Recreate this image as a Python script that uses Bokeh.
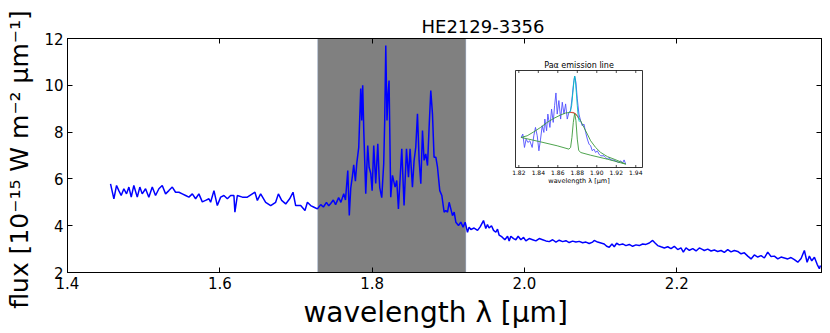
from bokeh.plotting import figure
from bokeh.models import (Range1d, LinearAxis, FixedTicker, PrintfTickFormatter,
                          BoxAnnotation, CustomJSTickFormatter)
from bokeh.embed import file_html
from bokeh.resources import INLINE
from bokeh.core.properties import value

# ---------------- main spectrum ----------------
WAVE = [1.4565, 1.4609, 1.4644, 1.4674, 1.4705, 1.4740, 1.4775, 1.4806, 1.4837, 1.4871,
        1.4916, 1.4950, 1.4981, 1.5025, 1.5068, 1.5113, 1.5156, 1.5200, 1.5244, 1.5288,
        1.5331, 1.5376, 1.5419, 1.5463, 1.5507, 1.5551, 1.5594, 1.5639, 1.5682, 1.5725,
        1.5770, 1.5813, 1.5857, 1.5879, 1.5923, 1.5967, 1.6011, 1.6054, 1.6099, 1.6142,
        1.6185, 1.6198, 1.6230, 1.6296, 1.6361, 1.6427, 1.6461, 1.6493, 1.6536, 1.6602,
        1.6668, 1.6733, 1.6769, 1.6812, 1.6865, 1.6917, 1.6961, 1.6996, 1.7062, 1.7118,
        1.7150, 1.7193, 1.7237, 1.7281, 1.7325, 1.7360, 1.7400, 1.7430, 1.7456, 1.7490,
        1.7520, 1.7560, 1.7590, 1.7627, 1.7650, 1.7680, 1.7700, 1.7719, 1.7740, 1.7758,
        1.7780, 1.7798, 1.7824, 1.7850, 1.7863, 1.7876, 1.7890, 1.7916, 1.7942, 1.7960,
        1.7982, 1.8000, 1.8021, 1.8047, 1.8074, 1.8090, 1.8100, 1.8126, 1.8152, 1.8165,
        1.8179, 1.8195, 1.8209, 1.8222, 1.8244, 1.8267, 1.8301, 1.8323, 1.8345, 1.8389,
        1.8419, 1.8451, 1.8477, 1.8498, 1.8529, 1.8551, 1.8573, 1.8595, 1.8617, 1.8639,
        1.8661, 1.8682, 1.8704, 1.8727, 1.8748, 1.8770, 1.8792, 1.8813, 1.8836, 1.8858,
        1.8888, 1.8915, 1.8945, 1.8967, 1.8990, 1.9011, 1.9033, 1.9055, 1.9077, 1.9099,
        1.9134, 1.9164, 1.9194, 1.9221, 1.9252, 1.9273, 1.9296, 1.9339, 1.9384, 1.9418,
        1.9462, 1.9492, 1.9514, 1.9535, 1.9567, 1.9594, 1.9624, 1.9646, 1.9667, 1.9690,
        1.9712, 1.9742, 1.9778, 1.9799, 1.9821, 1.9857, 1.9887, 1.9917, 1.9953, 1.9988,
        2.0018, 2.0062, 2.0107, 2.0150, 2.0194, 2.0238, 2.0281, 2.0325, 2.0370, 2.0413,
        2.0456, 2.0501, 2.0544, 2.0587, 2.0632, 2.0675, 2.0719, 2.0764, 2.0807, 2.0850,
        2.0895, 2.0916, 2.0960, 2.1004, 2.1047, 2.1079, 2.1113, 2.1149, 2.1179, 2.1210,
        2.1245, 2.1289, 2.1332, 2.1376, 2.1420, 2.1464, 2.1507, 2.1552, 2.1595, 2.1639,
        2.1683, 2.1718, 2.1749, 2.1792, 2.1836, 2.1881, 2.1924, 2.1967, 2.2012, 2.2055,
        2.2086, 2.2121, 2.2165, 2.2210, 2.2253, 2.2296, 2.2341, 2.2361, 2.2406, 2.2450,
        2.2493, 2.2537, 2.2581, 2.2624, 2.2669, 2.2712, 2.2756, 2.2800, 2.2844, 2.2887,
        2.2932, 2.2975, 2.3018, 2.3063, 2.3106, 2.3150, 2.3194, 2.3238, 2.3281, 2.3326,
        2.3369, 2.3413, 2.3457, 2.3500, 2.3544, 2.3589, 2.3632, 2.3675, 2.3711, 2.3741,
        2.3772, 2.3807, 2.3843, 2.3872, 2.3886]
FLUX = [5.79, 5.15, 5.72, 5.50, 5.29, 5.58, 5.36, 5.65, 5.22, 5.72,
        5.22, 5.65, 5.36, 5.58, 5.22, 5.65, 5.29, 5.58, 5.72, 5.36,
        5.50, 5.65, 5.43, 5.43, 5.36, 5.29, 5.22, 5.36, 5.15, 5.36,
        5.02, 5.08, 5.15, 5.00, 5.50, 4.86, 5.22, 5.29, 5.15, 5.29,
        5.29, 4.58, 5.29, 5.22, 5.22, 5.36, 5.43, 5.08, 5.36, 5.00,
        4.86, 5.00, 5.36, 5.08, 4.93, 5.15, 5.43, 4.86, 4.86, 4.65,
        5.00, 4.86, 4.79, 4.72, 4.90, 4.80, 5.00, 4.85, 4.95, 5.10,
        4.90, 5.20, 5.00, 5.37, 5.10, 6.36, 4.44, 5.60, 6.10, 6.60,
        5.90, 6.66, 7.35, 9.86, 8.50, 10.00, 8.07, 5.37, 7.43, 6.50,
        6.23, 5.50, 7.43, 5.80, 7.50, 6.20, 5.63, 5.20, 6.66, 8.50,
        11.70, 8.50, 9.60, 10.20, 5.22, 6.15, 5.65, 5.93, 4.72, 7.29,
        4.86, 7.29, 6.07, 7.29, 5.65, 6.79, 7.36, 8.78, 6.79, 5.79,
        8.07, 6.79, 7.07, 6.57, 8.21, 9.78, 8.78, 6.93, 6.93, 6.50,
        5.50, 5.29, 4.58, 4.65, 4.58, 5.00, 4.72, 4.43, 4.58, 4.15,
        4.01, 4.15, 3.94, 4.15, 3.72, 3.94, 3.84, 3.90, 3.80, 3.95,
        4.22, 3.88, 4.05, 3.90, 4.00, 3.80, 3.72, 3.85, 3.60, 3.55,
        3.50, 3.40, 3.55, 3.35, 3.55, 3.45, 3.40, 3.55, 3.40, 3.50,
        3.35, 3.45, 3.40, 3.35, 3.45, 3.40, 3.35, 3.32, 3.40, 3.30,
        3.38, 3.32, 3.36, 3.28, 3.34, 3.30, 3.33, 3.27, 3.30, 3.24,
        3.30, 3.37, 3.30, 3.26, 3.22, 3.12, 3.08, 3.22, 3.10, 3.25,
        3.18, 3.22, 3.15, 3.20, 3.12, 3.18, 3.15, 3.22, 3.20, 3.26,
        3.37, 3.25, 3.15, 3.10, 3.05, 3.10, 3.02, 3.12, 2.98, 3.05,
        2.87, 3.05, 2.95, 3.02, 2.92, 3.05, 2.98, 2.94, 3.00, 2.92,
        2.96, 2.90, 2.94, 2.86, 2.98, 2.88, 2.94, 2.90, 2.80, 2.84,
        2.70, 2.58, 2.75, 2.66, 2.72, 2.62, 2.87, 2.68, 2.70, 2.58,
        2.66, 2.62, 2.58, 2.64, 2.55, 2.44, 2.60, 2.94, 2.44, 2.70,
        2.50, 2.65, 2.35, 2.16, 2.30]

SHADE = [1.7285, 1.923]          # shaded wavelength window
X_TICKS = [1.4, 1.6, 1.8, 2.0, 2.2]
Y_TICKS = [2, 4, 6, 8, 10, 12]
X_LIM = [1.4, 2.39]
Y_LIM = [2, 12]

# ---------------- inset: Pa-alpha line ----------------
INSET_X_LIM = [1.8166, 1.9469]
INSET_Y_LIM = [3.68, 10.07]
INSET_TICKS = [1.82, 1.84, 1.86, 1.88, 1.90, 1.92, 1.94]
INSET_TICK_LABELS = ["1.82", "1.84", "1.86", "1.88", "1.90", "1.92", "1.94"]

INSET_WAVE = [1.8224, 1.8241, 1.8258, 1.8275, 1.8293, 1.8313, 1.8337, 1.8354, 1.8371, 1.8389,
              1.8406, 1.8423, 1.8440, 1.8457, 1.8467, 1.8485, 1.8498, 1.8519, 1.8536, 1.8553,
              1.8567, 1.8581, 1.8594, 1.8611, 1.8629, 1.8646, 1.8663, 1.8680, 1.8697, 1.8714,
              1.8731, 1.8749, 1.8759, 1.8773, 1.8786, 1.8800, 1.8817, 1.8834, 1.8851, 1.8868,
              1.8886, 1.8903, 1.8920, 1.8937, 1.8954, 1.8971, 1.8988, 1.9006, 1.9023, 1.9040,
              1.9074, 1.9091, 1.9108, 1.9125, 1.9143, 1.9177, 1.9211, 1.9228, 1.9246, 1.9263,
              1.9280, 1.9297]
INSET_FLUX = [5.66, 5.88, 5.00, 5.55, 5.33, 5.44, 5.00, 5.77, 6.32, 5.77,
              4.78, 5.55, 6.43, 5.99, 6.87, 6.10, 7.20, 6.32, 7.53, 6.65,
              7.75, 8.59, 7.20, 8.09, 6.87, 7.98, 7.20, 7.87, 6.87, 7.31,
              7.42, 8.42, 9.08, 9.70, 9.30, 8.20, 7.20, 6.76, 6.43, 6.54,
              5.99, 5.55, 5.22, 5.11, 4.78, 4.89, 4.67, 4.78, 4.56, 4.45,
              4.45, 4.34, 4.23, 4.34, 4.18, 4.16, 4.05, 4.01, 4.12, 3.96,
              4.18, 3.90]

NARROW_WAVE = [1.8224, 1.8423, 1.8594, 1.8714, 1.8731, 1.8745, 1.8759, 1.8773, 1.8786,
               1.8800, 1.8814, 1.8834, 1.8937, 1.9108, 1.9297]
NARROW_FLUX = [5.66, 5.37, 5.11, 4.89, 5.00, 5.66, 6.65, 7.27, 6.76,
               5.55, 4.82, 4.67, 4.49, 4.23, 3.90]

BROAD_WAVE = [1.8224, 1.8286, 1.8354, 1.8423, 1.8491, 1.8560, 1.8629, 1.8680, 1.8731, 1.8766,
              1.8800, 1.8834, 1.8868, 1.8903, 1.8937, 1.8988, 1.9040, 1.9108, 1.9177, 1.9246,
              1.9297]
BROAD_FLUX = [5.66, 5.77, 6.03, 6.32, 6.65, 6.92, 7.14, 7.27, 7.31, 7.27,
              7.09, 6.76, 6.32, 5.88, 5.44, 5.00, 4.67, 4.40, 4.23, 4.05,
              3.90]

RED_WAVE = [1.8724, 1.8749, 1.8773, 1.8793, 1.8814]
RED_FLUX = [7.31, 7.31, 7.27, 7.14, 6.92]

TOTAL_WAVE = [1.8725, 1.8742, 1.8755, 1.8766, 1.8773, 1.8779, 1.8790, 1.8800, 1.8810, 1.8821]
TOTAL_FLUX = [7.31, 7.75, 8.64, 9.41, 9.70, 9.52, 8.64, 7.75, 6.98, 6.70]

FONT = "DejaVu Sans"

# ---------------- figure ----------------
p = figure(width=829, height=332, x_range=Range1d(*X_LIM), y_range=Range1d(*Y_LIM),
           output_backend="svg", toolbar_location=None,
           min_border_left=67, min_border_right=8, min_border_top=38, min_border_bottom=60)
p.title.text = "HE2129-3356"
p.title.align = "left"
p.title.offset = 354
p.title.text_font = FONT
p.title.text_font_size = "18px"
p.title.text_font_style = "normal"
p.title.text_color = "black"
p.title.standoff = 4
p.xgrid.visible = False
p.ygrid.visible = False
p.outline_line_color = "black"
p.outline_line_width = 1
p.background_fill_color = "white"
p.border_fill_color = "white"

def style_axis(ax, labels=True):
    ax.major_tick_in = 5
    ax.major_tick_out = 0
    ax.minor_tick_in = 0
    ax.minor_tick_out = 0
    ax.axis_line_color = "black"
    ax.major_tick_line_color = "black"
    ax.major_label_text_font = FONT
    ax.major_label_text_font_size = "15px"
    ax.major_label_text_color = "black"
    ax.axis_label_text_font = FONT
    ax.axis_label_text_font_size = "22px"
    ax.axis_label_text_font_style = "normal"
    ax.axis_label_text_color = "black"
    ax.major_label_standoff = 4 if labels else 0

xa = p.xaxis[0]
xa.ticker = FixedTicker(ticks=X_TICKS)
xa.formatter = PrintfTickFormatter(format="%.1f")
xa.axis_label = "wavelength  λ  [μm]"
xa.axis_label_standoff = 4
style_axis(xa)
xa.axis_label_text_font_size = "28px"

ya = p.yaxis[0]
ya.ticker = FixedTicker(ticks=Y_TICKS)
ya.formatter = PrintfTickFormatter(format="%d")
ya.axis_label = "flux [10⁻¹⁵ W m⁻²  μm⁻¹]"
ya.axis_label_standoff = 7
style_axis(ya)
ya.axis_label_text_font_size = "25px"

blank = "return ''"
top = LinearAxis(ticker=FixedTicker(ticks=X_TICKS), formatter=CustomJSTickFormatter(code=blank))
style_axis(top, labels=False)
p.add_layout(top, "above")
right = LinearAxis(ticker=FixedTicker(ticks=Y_TICKS), formatter=CustomJSTickFormatter(code=blank))
style_axis(right, labels=False)
p.add_layout(right, "right")

shade = BoxAnnotation(left=SHADE[0], right=SHADE[1], fill_color="#808080", fill_alpha=1.0,
                      line_color="#7f9fd4", line_width=1, level="underlay")
p.add_layout(shade)

p.line(WAVE, FLUX, line_color="#0000ff", line_width=1.5)

# ---------------- inset drawn through its own ranges ----------------
FRAME_W, FRAME_H = 754, 234
BOX = (448, 575, 105, 202)   # inset box in frame pixels: left, right, bottom, top
def extra_range(lim, a, b, n):
    span = (lim[1] - lim[0]) * n / (b - a)
    start = lim[0] - a / n * span
    return Range1d(start, start + span)

p.extra_x_ranges = {"ix": extra_range(INSET_X_LIM, BOX[0], BOX[1], FRAME_W)}
p.extra_y_ranges = {"iy": extra_range(INSET_Y_LIM, BOX[2], BOX[3], FRAME_H)}
kw = dict(x_range_name="ix", y_range_name="iy")

p.quad(left=[INSET_X_LIM[0]], right=[INSET_X_LIM[1]], bottom=[INSET_Y_LIM[0]], top=[INSET_Y_LIM[1]],
       fill_color="white", line_color="black", line_width=0.8, **kw)

dy_px = (INSET_Y_LIM[1] - INSET_Y_LIM[0]) / (BOX[3] - BOX[2])
tick_len = 2.5 * dy_px
p.segment(x0=INSET_TICKS, x1=INSET_TICKS, y0=[INSET_Y_LIM[0]] * len(INSET_TICKS),
          y1=[INSET_Y_LIM[0] + tick_len] * len(INSET_TICKS), line_color="black", line_width=0.7, **kw)
p.segment(x0=INSET_TICKS, x1=INSET_TICKS, y0=[INSET_Y_LIM[1]] * len(INSET_TICKS),
          y1=[INSET_Y_LIM[1] - tick_len] * len(INSET_TICKS), line_color="black", line_width=0.7, **kw)

p.line(INSET_WAVE, INSET_FLUX, line_color="#4f4fff", line_width=0.9, **kw)
p.line(BROAD_WAVE, BROAD_FLUX, line_color="#3a9a3a", line_width=0.9, **kw)
p.line(NARROW_WAVE, NARROW_FLUX, line_color="#3a9a3a", line_width=0.9, **kw)
p.line(RED_WAVE, RED_FLUX, line_color="#ff3030", line_width=0.9, **kw)
p.line(TOTAL_WAVE, TOTAL_FLUX, line_color="#00bfbf", line_width=0.9, **kw)

p.text(x=INSET_TICKS, y=[INSET_Y_LIM[0]] * len(INSET_TICKS), text=INSET_TICK_LABELS,
       text_font=value(FONT), text_font_size="6px", text_align="center", text_baseline="top",
       y_offset=2, text_color="black", **kw)
mid = (INSET_X_LIM[0] + INSET_X_LIM[1]) / 2
p.text(x=[mid], y=[INSET_Y_LIM[0]], text=["wavelength λ [μm]"], text_font=value(FONT),
       text_font_size="6.5px", text_align="center", text_baseline="top", y_offset=9,
       text_color="black", **kw)
p.text(x=[mid], y=[INSET_Y_LIM[1]], text=["Paα emission line"], text_font=value(FONT),
       text_font_size="8px", text_align="center", text_baseline="bottom", y_offset=-1,
       text_color="black", **kw)

open("out.html", "w").write(file_html(p, INLINE))
